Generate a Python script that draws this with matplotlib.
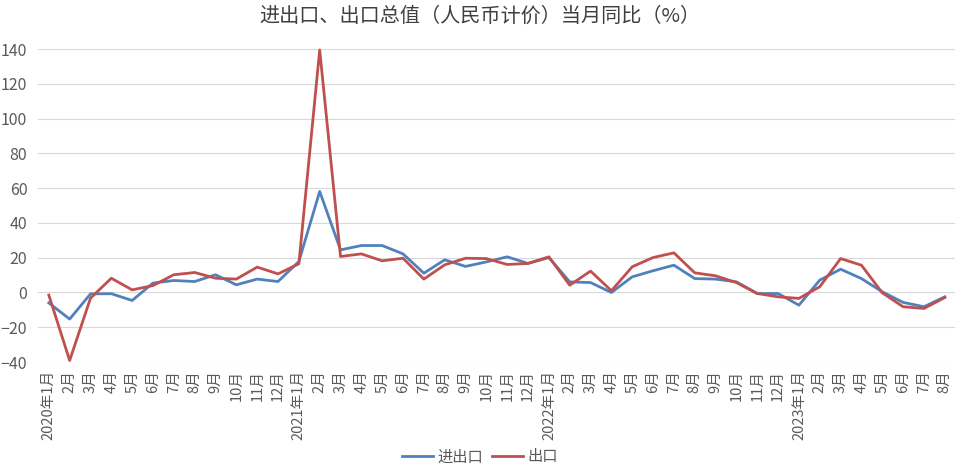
import numpy as np
import matplotlib
matplotlib.use("Agg")
import matplotlib.pyplot as plt

plt.rcParams['font.family'] = ['Noto Sans CJK SC', 'DejaVu Sans']

months = []
for yr, n in [(2020, 12), (2021, 12), (2022, 12), (2023, 8)]:
    for m in range(1, n + 1):
        months.append(f"{yr}年{m}月" if m == 1 else f"{m}月")

# 进出口 total trade, yoy %
total = [-6.0, -15.3, -0.8, -0.7, -4.6, 5.4, 6.9, 6.3, 10.2, 4.4, 7.7, 6.3,
         17.8, 58.1, 24.5, 27.0, 27.0, 22.2, 11.1, 18.8, 15.0, 17.6, 20.5, 16.7,
         20.1, 6.1, 5.7, 0.0, 9.0, 12.5, 15.7, 8.0, 7.7, 6.1, -0.6, -0.6,
         -7.3, 7.1, 13.4, 8.0, 0.4, -5.7, -8.2, -2.5]
# 出口 exports, yoy %
exports = [-1.5, -39.1, -3.3, 8.2, 1.5, 4.0, 10.2, 11.5, 8.2, 7.7, 14.6, 10.7,
           16.5, 139.5, 20.7, 22.2, 18.2, 19.7, 7.7, 15.9, 19.7, 19.5, 16.1, 16.7,
           20.5, 4.2, 12.3, 1.0, 14.8, 20.1, 22.8, 11.3, 9.6, 5.7, -0.6, -2.5,
           -3.4, 3.3, 19.5, 15.7, -0.2, -8.2, -9.2, -2.9]

x = np.arange(len(months))

fig = plt.figure(figsize=(9.6, 4.72), dpi=100)
ax = fig.add_axes([0.04, 0.233, 0.955, 0.663])

ax.plot(x, total, color='#4F81BD', lw=2.0, label='进出口', clip_on=False)
ax.plot(x, exports, color='#C0504D', lw=2.0, label='出口', clip_on=False)

ax.set_xlim(-0.5, len(months) - 0.5)
ax.set_ylim(-40, 140)
ax.set_yticks(np.arange(-40, 141, 20))
ax.set_xticks(x)
ax.set_xticklabels(months, rotation=90, fontsize=10.5, color='#595959')
ax.tick_params(axis='y', labelsize=11.5, labelcolor='#595959', length=0, pad=8)
ax.tick_params(axis='x', length=0, pad=6)
ax.grid(axis='y', color='#D9D9D9', lw=0.8)
ax.set_axisbelow(True)
for s in ax.spines.values():
    s.set_visible(False)

fig.text(0.5, 0.965, '进出口、出口总值（人民币计价）当月同比（%）', ha='center', va='center',
         fontsize=14.5, fontweight='medium', color='#404040')

fig.legend(loc='lower center', bbox_to_anchor=(0.5, -0.015), ncol=2, frameon=False,
           fontsize=11, labelcolor='#595959', handlelength=2.0, columnspacing=0.6,
           handletextpad=0.3)

fig.savefig('out.png', dpi=100)
